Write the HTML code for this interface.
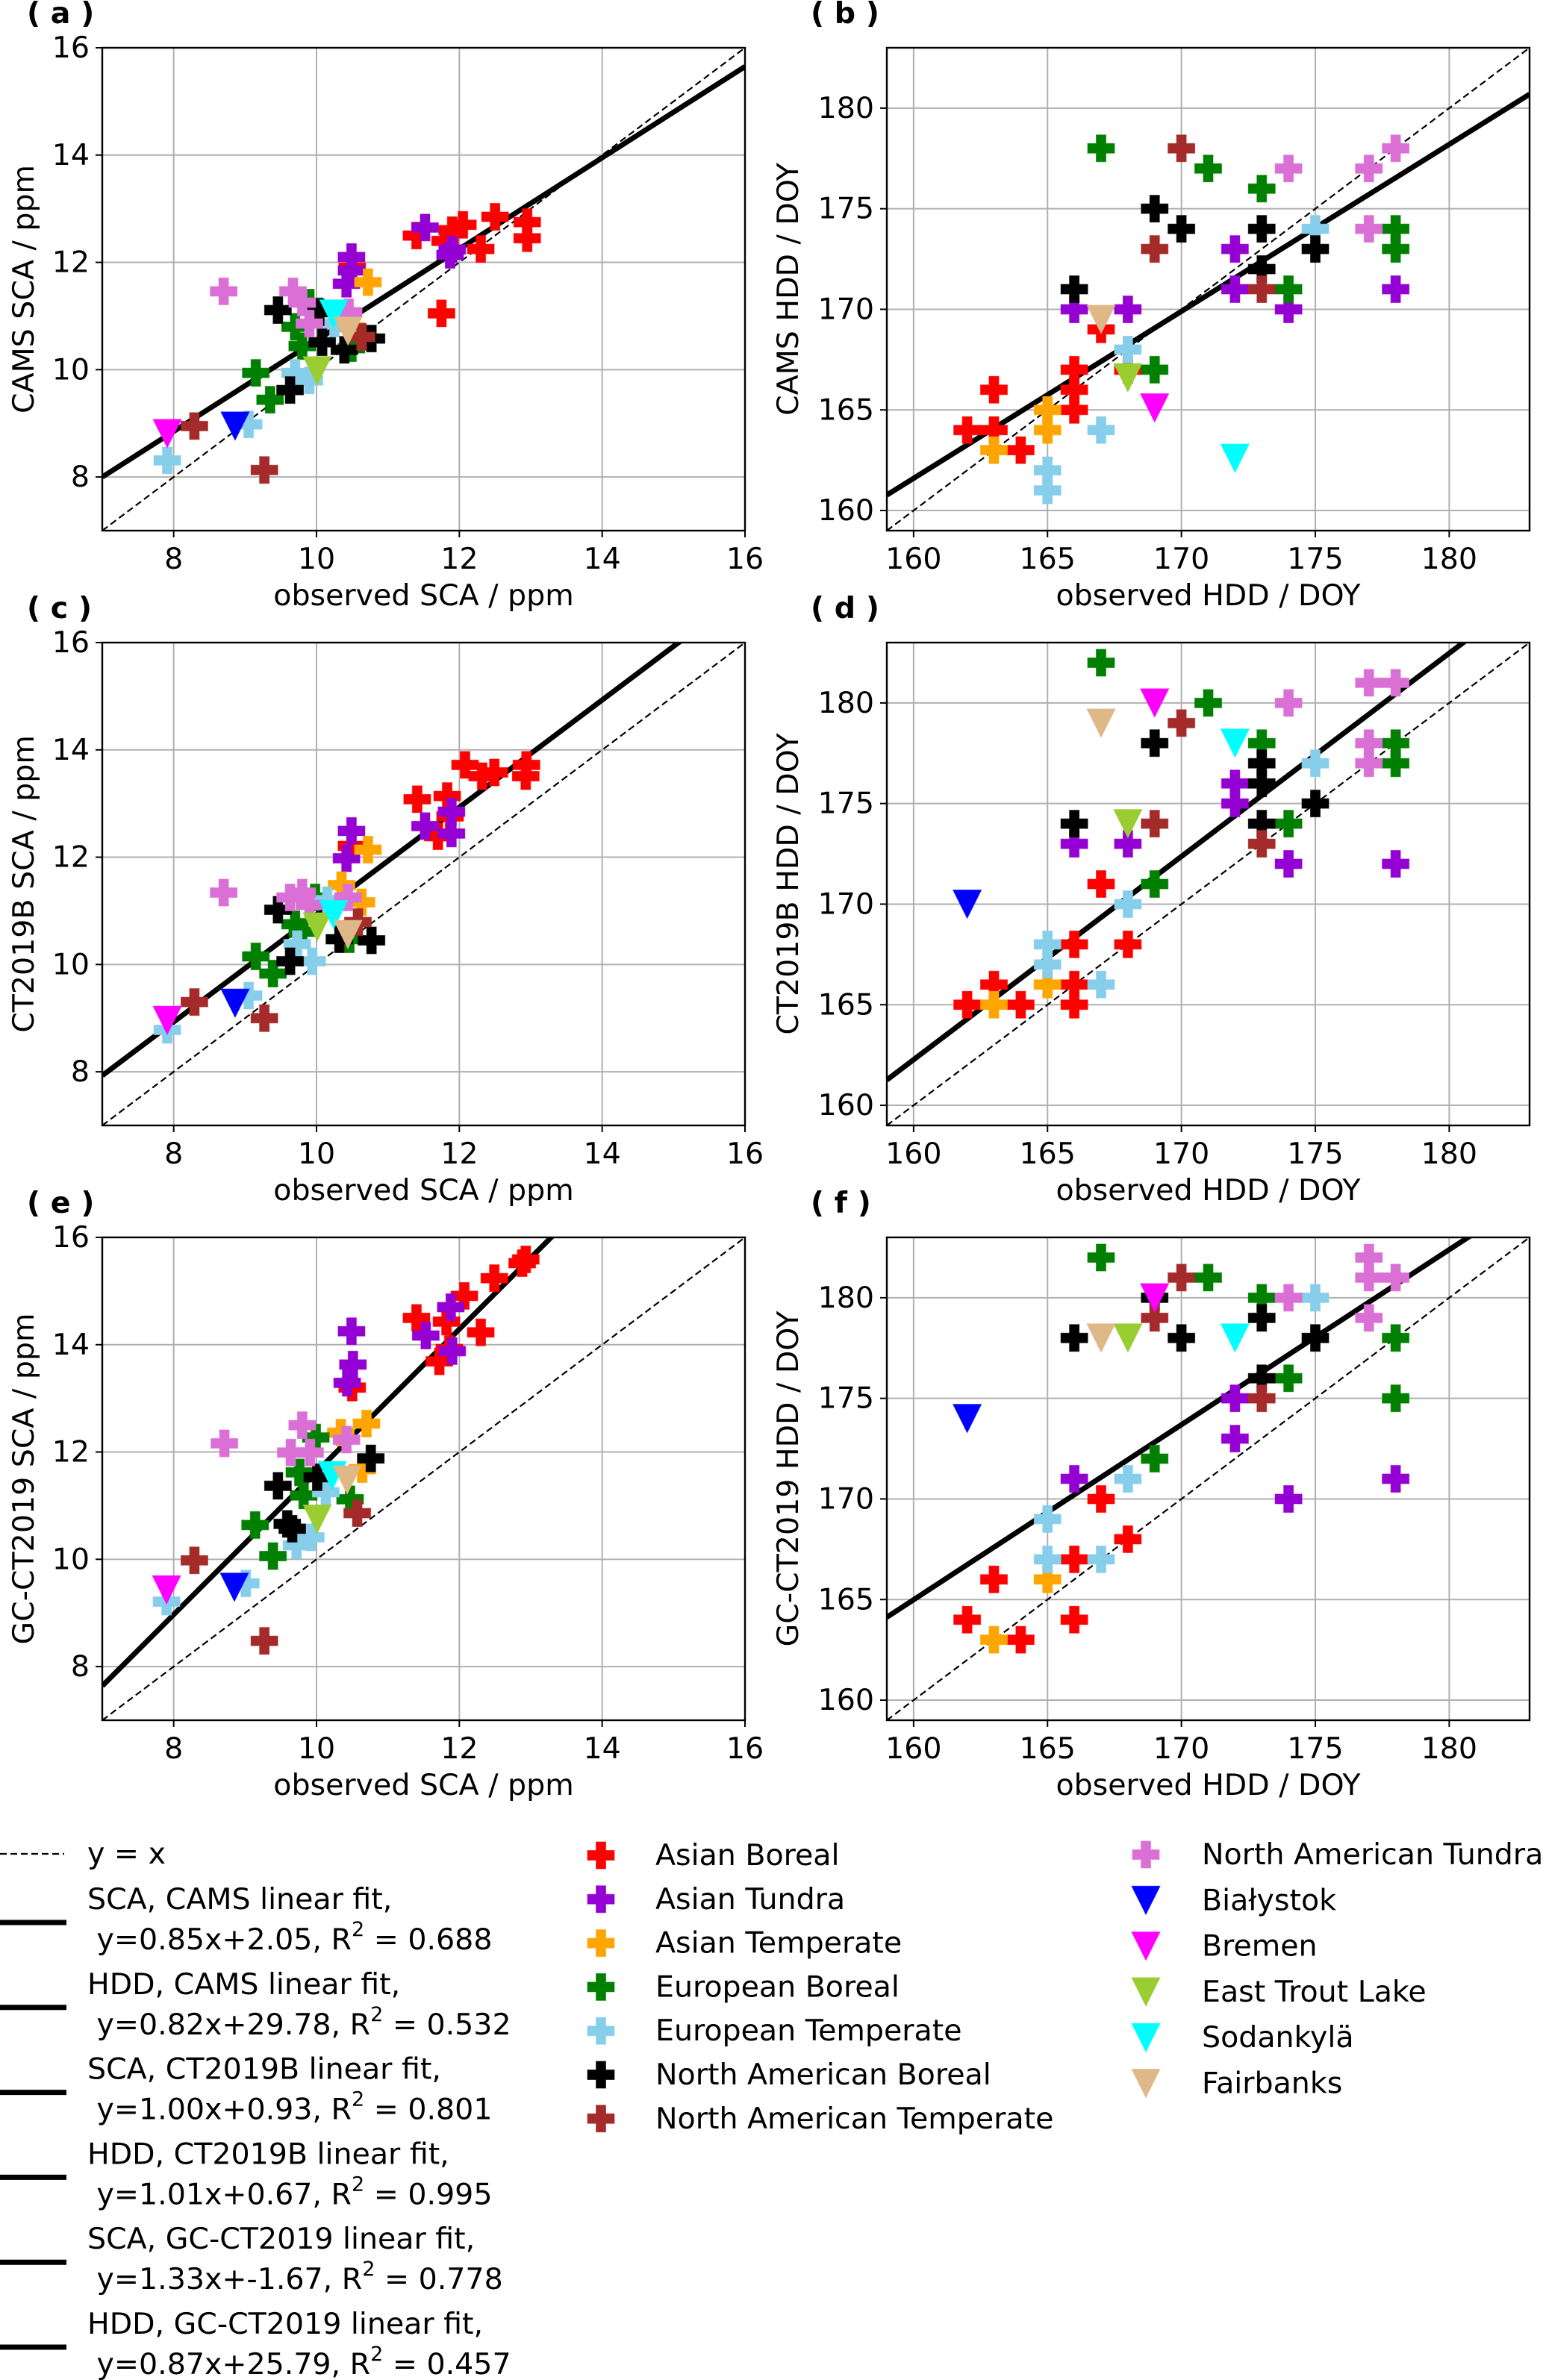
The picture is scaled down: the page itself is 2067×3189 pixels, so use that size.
<!DOCTYPE html>
<html><head><meta charset="utf-8"><style>
html,body{margin:0;padding:0;background:#fff;}
svg{display:block;font-family:"DejaVu Sans","Liberation Sans",sans-serif;}
</style></head><body>
<svg id="fig" width="2067" height="3189" viewBox="0 0 2067 3189" xmlns="http://www.w3.org/2000/svg"></svg>
<script>
// ---- data (group index, observed, model) ----
const groupNames = ["Asian Boreal","Asian Tundra","Asian Temperate","European Boreal","European Temperate","North American Boreal","North American Temperate","North American Tundra","Białystok","Bremen","East Trout Lake","Sodankylä","Fairbanks"];
const groupColors = ["#ff0000","#9400d3","#ffa500","#008000","#87ceeb","#000000","#a52a2a","#da70d6","#0000ff","#ff00ff","#9acd32","#00ffff","#deb887"];

const panelA_group = [0,0,0,0,0,0,0,0,0,0, 1,1,1,1,1,1, 2,2, 3,3,3,3,3,3, 4,4,4,4,4, 5,5,5,5,5,5, 6,6,6, 7,7,7,7,7, 8,9,10,11,12];
const panelA_obs = [11.4,11.8,11.9,12.05,12.5,12.95,12.95,12.3,11.75,10.5, 11.52,11.9,11.87,10.49,10.49,10.42, 10.72,10.49, 9.9,9.7,9.8,9.15,9.35,10.49, 7.91,9.05,9.7,9.9,10.25, 9.46,9.63,10.08,10.39,10.77,10.04, 8.29,9.27,10.63, 8.7,9.67,9.8,9.9,10.45, 8.86,7.91,10.01,10.24,10.44];
const panelA_model = [12.5,12.4,12.6,12.7,12.85,12.75,12.45,12.25,11.05,11.9, 12.65,12.24,12.14,12.1,11.85,11.6, 11.63,10.79, 11.25,10.8,10.44,9.94,9.44,10.4, 8.31,8.98,9.94,9.8,10.86, 11.11,9.62,10.51,10.37,10.58,11.07, 8.95,8.13,10.61, 11.46,11.46,11.25,10.86,11.07, 8.95,8.81,9.98,11.04,10.72];

const panelB_group = [0,0,0,0,0,0,0,0,0, 2,2,2, 4,4,4,4,4, 3,3,3,3,3,3,3, 1,1,1,1,1,1, 5,5,5,5,5,5, 6,6,6, 7,7,7,7, 12,10,9,11];
const panelB_obs = [162,163,163,164,166,166,166,167,168, 163,165,165, 165,165,167,168,175, 167,171,173,174,178,178,169, 166,168,172,172,174,178, 166,169,170,173,173,175, 170,169,173, 174,177,178,177, 167,168,169,172];
const panelB_model = [164,164,166,163,167,166,165,169,167, 163,165,164, 162,161,164,168,174, 178,177,176,171,174,173,167, 170,170,173,171,170,171, 171,175,174,174,172,173, 178,173,171, 177,177,178,174, 169.5,166.6,165.1,162.6];

const panelC_group = [0,0,0,0,0,0,0,0,0,0, 1,1,1,1,1, 2,2,2, 3,3,3,3,3,3, 4,4,4,4,4, 5,5,5,5, 6,6,6, 7,7,7,7,7, 8,9,10,11,12];
const panelC_obs = [11.41,11.83,12.08,12.32,12.49,12.94,12.93,11.7,11.87,10.49, 11.52,11.89,11.89,10.49,10.42, 10.72,10.35,10.63, 9.98,9.7,9.8,9.15,9.39,10.46, 7.91,9.05,9.73,9.94,10.15, 9.46,9.63,10.32,10.77, 8.29,9.27,10.58, 8.7,9.63,9.8,9.9,10.44, 8.86,7.91,10.01,10.24,10.44];
const panelC_model = [13.08,13.14,13.72,13.51,13.58,13.72,13.51,12.39,12.76,12.21, 12.58,12.85,12.44,12.49,11.98, 12.14,11.48,11.16, 11.25,10.75,10.61,10.15,9.83,10.47, 8.78,9.42,10.38,10.06,11.2, 11.02,10.06,10.47,10.45, 9.3,9.0,10.79, 11.34,11.25,11.34,11.11,11.25, 9.28,8.96,10.7,10.93,10.56];

const panelD_group = [0,0,0,0,0,0,0,0, 2,2, 4,4,4,4,4, 3,3,3,3,3,3,3, 1,1,1,1,1,1, 5,5,5,5,5,5, 6,6,6, 7,7,7,7,7, 8,9,12,10,11];
const panelD_obs = [162,163,164,166,166,166,167,168, 163,165, 165,165,167,168,175, 167,171,173,174,169,178,178, 166,168,172,172,174,178, 166,169,173,173,173,175, 170,169,173, 174,177,177,177,178, 162,169,167,168,172];
const panelD_model = [165,166,165,168,166,165,171,168, 165,166, 168,167,166,170,177, 182,180,178,174,171,178,177, 173,173,176,175,172,172, 174,178,177,176,174,175, 179,174,173, 180,181,178,177,181, 170,180,179,174,178];

const panelE_group = [0,0,0,0,0,0,0,0,0,0, 1,1,1,1,1,1, 2,2,2, 3,3,3,3,3,3, 4,4,4,4,4, 5,5,5,5,5, 6,6,6, 7,7,7,7,7, 8,9,10,11,12];
const panelE_obs = [12.93,12.88,12.49,12.07,11.4,11.82,12.3,11.72,11.86,10.5, 11.88,11.53,11.9,10.49,10.51,10.43, 10.7,10.34,10.64, 9.99,9.76,9.82,9.14,9.39,10.47, 7.9,9.01,9.72,9.92,10.13, 9.46,9.59,9.66,10.01,10.76, 8.29,9.27,10.57, 8.71,9.8,9.64,9.91,10.42, 8.85,7.9,10.01,10.22,10.43];
const panelE_model = [15.59,15.52,15.24,14.91,14.5,14.43,14.23,13.69,13.92,13.2, 14.7,14.17,13.88,14.25,13.63,13.29, 12.53,12.36,11.68, 12.27,11.62,11.19,10.64,10.06,11.12, 9.21,9.55,10.26,10.41,11.25, 11.37,10.66,10.57,11.53,11.88, 9.98,8.48,10.86, 12.16,12.5,11.99,11.99,12.23, 9.48,9.43,10.75,11.56,11.48];

const panelF_group = [0,0,0,0,0,0,0, 2,2, 4,4,4,4,4, 3,3,3,3,3,3,3, 1,1,1,1,1, 5,5,5,5,5,5, 6,6,6, 7,7,7,7,7, 8,12,10,9,11];
const panelF_obs = [162,163,164,166,166,167,168, 163,165, 165,165,167,168,175, 167,171,173,174,169,178,178, 166,172,172,174,178, 166,169,170,173,173,175, 170,169,173, 174,177,177,177,178, 162,167,168,169,172];
const panelF_model = [164,166,163,164,167,170,168, 163,166, 169,167,167,171,180, 182,181,180,176,172,178,175, 171,175,173,170,171, 178,180,178,179,176,178, 181,179,175, 180,182,181,179,181, 174,178,178,180,178];

const fitSlopes = [0.85,0.83,1.00,1.01,1.33,0.87];
const fitIntercepts = [2.05,28.8,0.93,0.67,-1.67,25.79];
const scaTicks = [8,10,12,14,16];
const hddTicks = [160,165,170,175,180];
const legendFitLabels = [["SCA, CAMS linear fit,"," y=0.85x+2.05, R","0.688"],["HDD, CAMS linear fit,"," y=0.82x+29.78, R","0.532"],["SCA, CT2019B linear fit,"," y=1.00x+0.93, R","0.801"],["HDD, CT2019B linear fit,"," y=1.01x+0.67, R","0.995"],["SCA, GC-CT2019 linear fit,"," y=1.33x+-1.67, R","0.778"],["HDD, GC-CT2019 linear fit,"," y=0.87x+25.79, R","0.457"]];

// ---- drawing ----
const NS = "http://www.w3.org/2000/svg";
const svg = document.getElementById("fig");
function mk(tag, attrs, parent){ const e=document.createElementNS(NS,tag); for(const k in attrs) e.setAttribute(k,attrs[k]); (parent||svg).appendChild(e); return e; }
const FS = 39.5;

function plusPath(cx,cy){ const s=18, t=6.5; return `M${cx-t},${cy-s}H${cx+t}V${cy-t}H${cx+s}V${cy+t}H${cx+t}V${cy+s}H${cx-t}V${cy+t}H${cx-s}V${cy-t}H${cx-t}Z`; }
function triPath(cx,cy){ const h=19; return `M${cx-h},${cy-h}H${cx+h}L${cx},${cy+h}Z`; }
function marker(g, gi, cx, cy, name){
  const isTri = gi>=8;
  const p = mk("path",{d: isTri?triPath(cx,cy):plusPath(cx,cy), fill:groupColors[gi], stroke:groupColors[gi], "stroke-opacity":"0.6","stroke-width":"1"}, g);
  
  
  return p;
}

const panels = [
 {id:"a", label:"( a )", left:137, top:64, min:7, max:16, ticks:scaTicks, ylab:"CAMS SCA / ppm", xlab:"observed SCA / ppm", g:panelA_group, x:panelA_obs, y:panelA_model, yoff:105, loff:101},
 {id:"b", label:"( b )", left:1188, top:64, min:159, max:183, ticks:hddTicks, ylab:"CAMS HDD / DOY", xlab:"observed HDD / DOY", g:panelB_group, x:panelB_obs, y:panelB_model, yoff:132, loff:102},
 {id:"c", label:"( c )", left:137, top:861, min:7, max:16, ticks:scaTicks, ylab:"CT2019B SCA / ppm", xlab:"observed SCA / ppm", g:panelC_group, x:panelC_obs, y:panelC_model, yoff:105, loff:101},
 {id:"d", label:"( d )", left:1188, top:861, min:159, max:183, ticks:hddTicks, ylab:"CT2019B HDD / DOY", xlab:"observed HDD / DOY", g:panelD_group, x:panelD_obs, y:panelD_model, yoff:132, loff:102},
 {id:"e", label:"( e )", left:137, top:1658, min:7, max:16, ticks:scaTicks, ylab:"GC-CT2019 SCA / ppm", xlab:"observed SCA / ppm", g:panelE_group, x:panelE_obs, y:panelE_model, yoff:105, loff:101},
 {id:"f", label:"( f )", left:1188, top:1658, min:159, max:183, ticks:hddTicks, ylab:"GC-CT2019 HDD / DOY", xlab:"observed HDD / DOY", g:panelF_group, x:panelF_obs, y:panelF_model, yoff:132, loff:102}
];
const W = 861, H = 647;

panels.forEach((P, pi) => {
  const g = mk("g",{});
  
  
  const sx = v => P.left + (v-P.min)/(P.max-P.min)*W;
  const sy = v => P.top + H - (v-P.min)/(P.max-P.min)*H;
  const clip = mk("clipPath",{id:"clip"+P.id}, g);
  mk("rect",{x:P.left,y:P.top,width:W,height:H}, clip);
  P.ticks.forEach(t => {
    const gx = mk("line",{x1:sx(t),x2:sx(t),y1:P.top,y2:P.top+H,stroke:"#b0b0b0","stroke-width":"2"}, g);
    
    
    const gy = mk("line",{x1:P.left,x2:P.left+W,y1:sy(t),y2:sy(t),stroke:"#b0b0b0","stroke-width":"2"}, g);
    
    
  });
  const cg = mk("g",{"clip-path":`url(#clip${P.id})`}, g);
  const d1 = mk("line",{x1:sx(P.min),y1:sy(P.min),x2:sx(P.max),y2:sy(P.max),stroke:"#000","stroke-width":"2.2","stroke-dasharray":"9,5"}, cg);
  
  
  const m = fitSlopes[pi], b = fitIntercepts[pi];
  const fl = mk("line",{x1:sx(P.min),y1:sy(m*P.min+b),x2:sx(P.max),y2:sy(m*P.max+b),stroke:"#000","stroke-width":"7"}, cg);
  
  
  for (let gi=0; gi<13; gi++){
    P.g.forEach((gg,i) => { if (gg===gi) marker(cg, gi, sx(P.x[i]), sy(P.y[i]), 'point-' + groupNames[gi].toLowerCase().replace(/[^a-z]+/g,'-')); });
  }
  const fr = mk("rect",{x:P.left,y:P.top,width:W,height:H,fill:"none",stroke:"#000","stroke-width":"2.4"}, g);
  
  
  P.ticks.forEach(t => {
    mk("line",{x1:sx(t),x2:sx(t),y1:P.top+H,y2:P.top+H+9,stroke:"#000","stroke-width":"2"}, g);
    mk("line",{x1:P.left-9,x2:P.left,y1:sy(t),y2:sy(t),stroke:"#000","stroke-width":"2"}, g);
    const xt = mk("text",{x:sx(t),y:P.top+H+38,"text-anchor":"middle","dominant-baseline":"central","font-size":FS}, g);
    xt.textContent = t;
    
    
    const yt = mk("text",{x:P.left-17,y:sy(t),"text-anchor":"end","dominant-baseline":"central","font-size":FS}, g);
    yt.textContent = t;
    
    
  });
  const xl = mk("text",{x:P.left+W/2,y:P.top+H+87,"text-anchor":"middle","dominant-baseline":"central","font-size":FS}, g);
  xl.textContent = P.xlab;
  
  
  const ylx = P.left - P.yoff;
  const yl = mk("text",{x:ylx,y:P.top+H/2,"text-anchor":"middle","dominant-baseline":"central","font-size":FS,transform:`rotate(-90 ${ylx} ${P.top+H/2})`}, g);
  yl.textContent = P.ylab;
  
  
  const pl = mk("text",{x:P.left-P.loff,y:P.top-46,"dominant-baseline":"central","font-size":FS,"font-weight":"bold"}, g);
  pl.textContent = P.label;
  
  
});

// ---- legend ----
const lg = mk("g",{});


mk("line",{x1:0,x2:86,y1:2484,y2:2484,stroke:"#000","stroke-width":"2.2","stroke-dasharray":"9,5"}, lg);
const yx = mk("text",{x:117,y:2484,"dominant-baseline":"central","font-size":FS}, lg);
yx.textContent = "y = x";


legendFitLabels.forEach((L,i) => {
  const ly = 2576 + i*113.8;
  mk("line",{x1:0,x2:89,y1:ly,y2:ly,stroke:"#000","stroke-width":"7"}, lg);
  const t1 = mk("text",{x:117,y:ly-31,"dominant-baseline":"central","font-size":FS}, lg);
  t1.textContent = L[0];
  
  
  const t2 = mk("text",{x:117,y:ly+23,"dominant-baseline":"central","font-size":FS}, lg);
  
  
  t2.style.whiteSpace = "pre";
  const a = mk("tspan",{}, t2); a.textContent = L[1];
  const s = mk("tspan",{"font-size":"27",dy:"-14"}, t2); s.textContent = "2";
  const c = mk("tspan",{dy:"14"}, t2); c.textContent = " = " + L[2];
});
for (let gi=0; gi<13; gi++){
  let mx, tx, ry;
  if (gi<7){ mx=805; tx=878; ry=2486 + gi*58.8; }
  else { mx=1535; tx=1610; ry=2485 + (gi-7)*61.3; }
  marker(lg, gi, mx, ry, 'legend-marker');
  const t = mk("text",{x:tx,y:ry,"dominant-baseline":"central","font-size":FS}, lg);
  t.textContent = groupNames[gi];
  
  
}
</script>
</body></html>
